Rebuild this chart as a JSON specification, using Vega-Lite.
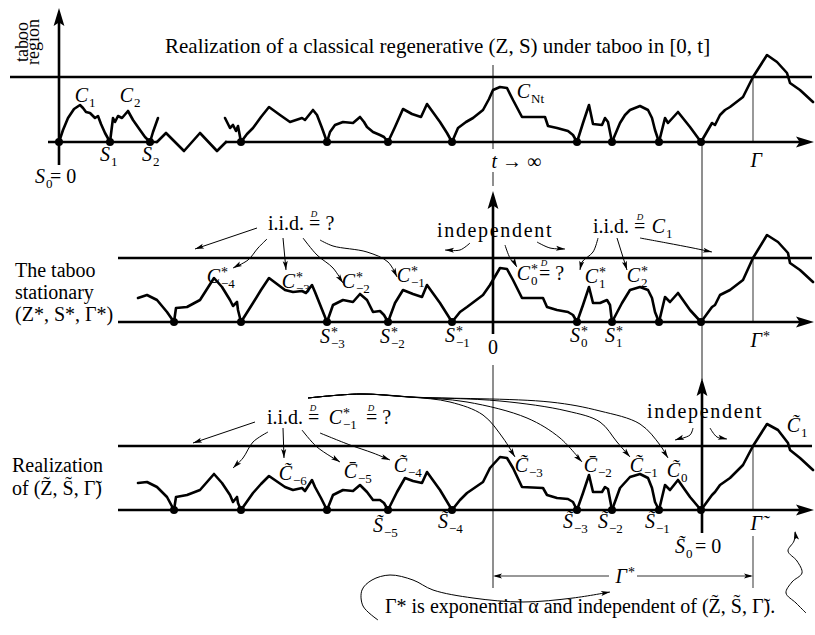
{
"$schema":"https://vega.github.io/schema/vega-lite/v6.json",
"width":815,"height":635,"padding":0,
"autosize":{"type":"fit","contains":"padding"},
"background":"white",
"config":{"view":{"stroke":null}},
"datasets":{
"thick":[
{"x":10,"y":77,"x2":812,"y2":77},{"x":48,"y":142,"x2":157,"y2":142},{"x":225,"y":142,"x2":806,"y2":142},{"x":59,"y":165,"x2":59,"y2":18},
{"x":118,"y":258,"x2":812,"y2":258},{"x":118,"y":322,"x2":806,"y2":322},{"x":493,"y":334,"x2":493,"y2":200},
{"x":118,"y":446,"x2":812,"y2":446},{"x":118,"y":510,"x2":806,"y2":510},{"x":702,"y":533,"x2":702,"y2":388}],
"grey":[
{"x":753,"y":77,"x2":753,"y2":142},{"x":753,"y":258,"x2":753,"y2":322},{"x":753,"y":446,"x2":753,"y2":510},{"x":753,"y":536,"x2":753,"y2":588}],
"thin":[
{"x":493,"y":65,"x2":493,"y2":149},{"x":493,"y":172,"x2":493,"y2":186},{"x":493,"y":365,"x2":493,"y2":588},{"x":702,"y":142,"x2":702,"y2":380},
{"x":495,"y":576,"x2":609,"y2":576},{"x":637,"y":576,"x2":751,"y2":576}],
"paths":[
{"g":"T1","x":59,"y":142},{"g":"T1","x":63,"y":130},{"g":"T1","x":68,"y":118},{"g":"T1","x":74,"y":109},{"g":"T1","x":80,"y":105},{"g":"T1","x":83,"y":108},{"g":"T1","x":86,"y":112},{"g":"T1","x":90,"y":113},{"g":"T1","x":95,"y":118},{"g":"T1","x":98,"y":116},{"g":"T1","x":101,"y":124},{"g":"T1","x":105,"y":133},{"g":"T1","x":110,"y":142},
{"g":"T2","x":110,"y":142},{"g":"T2","x":113,"y":118},{"g":"T2","x":115,"y":122},{"g":"T2","x":118,"y":116},{"g":"T2","x":122,"y":118},{"g":"T2","x":128,"y":111},{"g":"T2","x":133,"y":120},{"g":"T2","x":140,"y":130},{"g":"T2","x":145,"y":137},{"g":"T2","x":150,"y":142},
{"g":"T3","x":150,"y":142},{"g":"T3","x":153,"y":132},{"g":"T3","x":158,"y":118},
{"g":"T4","x":157,"y":142},{"g":"T4","x":166,"y":133},{"g":"T4","x":184,"y":151},{"g":"T4","x":200,"y":133},{"g":"T4","x":217,"y":151},{"g":"T4","x":226,"y":142},
{"g":"T5","x":225,"y":118},{"g":"T5","x":230,"y":128},{"g":"T5","x":233,"y":125},{"g":"T5","x":236,"y":131},{"g":"T5","x":238,"y":126},{"g":"T5","x":241,"y":142},
{"g":"T6","x":241,"y":142},{"g":"T6","x":247,"y":134},{"g":"T6","x":253,"y":128},{"g":"T6","x":261,"y":117},{"g":"T6","x":269,"y":107},{"g":"T6","x":280,"y":115},{"g":"T6","x":290,"y":122},{"g":"T6","x":302,"y":118},{"g":"T6","x":305,"y":120},{"g":"T6","x":313,"y":110},{"g":"T6","x":317,"y":115},{"g":"T6","x":322,"y":128},{"g":"T6","x":327,"y":142},
{"g":"T7","x":327,"y":142},{"g":"T7","x":330,"y":132},{"g":"T7","x":335,"y":125},{"g":"T7","x":343,"y":122},{"g":"T7","x":353,"y":123},{"g":"T7","x":360,"y":117},{"g":"T7","x":364,"y":122},{"g":"T7","x":367,"y":127},{"g":"T7","x":373,"y":132},{"g":"T7","x":380,"y":135},{"g":"T7","x":384,"y":137},{"g":"T7","x":388,"y":142},
{"g":"T8","x":388,"y":142},{"g":"T8","x":395,"y":127},{"g":"T8","x":403,"y":109},{"g":"T8","x":412,"y":114},{"g":"T8","x":421,"y":117},{"g":"T8","x":427,"y":104},{"g":"T8","x":440,"y":122},{"g":"T8","x":447,"y":133},{"g":"T8","x":452,"y":142},
{"g":"T9","x":452,"y":142},{"g":"T9","x":458,"y":128},{"g":"T9","x":466,"y":122},{"g":"T9","x":473,"y":118},{"g":"T9","x":483,"y":110},{"g":"T9","x":489,"y":99},{"g":"T9","x":493,"y":90},{"g":"T9","x":500,"y":87},{"g":"T9","x":507,"y":88},{"g":"T9","x":513,"y":100},{"g":"T9","x":522,"y":117},{"g":"T9","x":545,"y":117},{"g":"T9","x":548,"y":126},{"g":"T9","x":557,"y":128},{"g":"T9","x":568,"y":131},{"g":"T9","x":573,"y":135},{"g":"T9","x":577,"y":142},
{"g":"T10","x":577,"y":142},{"g":"T10","x":583,"y":123},{"g":"T10","x":589,"y":105},{"g":"T10","x":593,"y":124},{"g":"T10","x":602,"y":125},{"g":"T10","x":605,"y":118},{"g":"T10","x":608,"y":122},{"g":"T10","x":612,"y":142},
{"g":"T11","x":612,"y":142},{"g":"T11","x":620,"y":123},{"g":"T11","x":625,"y":115},{"g":"T11","x":630,"y":110},{"g":"T11","x":640,"y":106},{"g":"T11","x":648,"y":110},{"g":"T11","x":652,"y":118},{"g":"T11","x":655,"y":130},{"g":"T11","x":659,"y":142},
{"g":"T12","x":659,"y":142},{"g":"T12","x":665,"y":118},{"g":"T12","x":668,"y":123},{"g":"T12","x":678,"y":112},{"g":"T12","x":690,"y":127},{"g":"T12","x":701,"y":142},
{"g":"T13","x":701,"y":142},{"g":"T13","x":712,"y":123},{"g":"T13","x":715,"y":125},{"g":"T13","x":720,"y":115},{"g":"T13","x":725,"y":110},{"g":"T13","x":730,"y":107},{"g":"T13","x":743,"y":97},{"g":"T13","x":753,"y":77},{"g":"T13","x":767,"y":55},{"g":"T13","x":777,"y":62},{"g":"T13","x":787,"y":73},{"g":"T13","x":790,"y":83},{"g":"T13","x":800,"y":90},{"g":"T13","x":813,"y":102},
{"g":"M1","x":138,"y":298},{"g":"M1","x":147,"y":295},{"g":"M1","x":157,"y":300},{"g":"M1","x":167,"y":312},{"g":"M1","x":174,"y":322},
{"g":"M2","x":174,"y":322},{"g":"M2","x":176,"y":308},{"g":"M2","x":187,"y":307},{"g":"M2","x":200,"y":300},{"g":"M2","x":214,"y":278},{"g":"M2","x":222,"y":287},{"g":"M2","x":230,"y":300},{"g":"M2","x":233,"y":306},{"g":"M2","x":237,"y":302},{"g":"M2","x":238,"y":310},{"g":"M2","x":241,"y":322},
{"g":"M3","x":241,"y":322},{"g":"M3","x":253,"y":303},{"g":"M3","x":261,"y":290},{"g":"M3","x":269,"y":278},{"g":"M3","x":285,"y":290},{"g":"M3","x":293,"y":292},{"g":"M3","x":302,"y":291},{"g":"M3","x":306,"y":293},{"g":"M3","x":312,"y":285},{"g":"M3","x":315,"y":292},{"g":"M3","x":321,"y":307},{"g":"M3","x":327,"y":322},
{"g":"M4","x":327,"y":322},{"g":"M4","x":333,"y":305},{"g":"M4","x":343,"y":300},{"g":"M4","x":353,"y":302},{"g":"M4","x":360,"y":294},{"g":"M4","x":367,"y":300},{"g":"M4","x":373,"y":312},{"g":"M4","x":380,"y":311},{"g":"M4","x":384,"y":315},{"g":"M4","x":388,"y":322},
{"g":"M5","x":388,"y":322},{"g":"M5","x":395,"y":303},{"g":"M5","x":403,"y":290},{"g":"M5","x":413,"y":294},{"g":"M5","x":422,"y":297},{"g":"M5","x":427,"y":285},{"g":"M5","x":440,"y":303},{"g":"M5","x":452,"y":322},
{"g":"M6","x":452,"y":322},{"g":"M6","x":460,"y":312},{"g":"M6","x":467,"y":307},{"g":"M6","x":483,"y":295},{"g":"M6","x":490,"y":285},{"g":"M6","x":500,"y":268},{"g":"M6","x":507,"y":269},{"g":"M6","x":513,"y":280},{"g":"M6","x":522,"y":298},{"g":"M6","x":543,"y":298},{"g":"M6","x":547,"y":307},{"g":"M6","x":557,"y":310},{"g":"M6","x":568,"y":312},{"g":"M6","x":573,"y":315},{"g":"M6","x":577,"y":322},
{"g":"M7","x":577,"y":322},{"g":"M7","x":583,"y":305},{"g":"M7","x":589,"y":287},{"g":"M7","x":593,"y":303},{"g":"M7","x":600,"y":303},{"g":"M7","x":607,"y":300},{"g":"M7","x":610,"y":305},{"g":"M7","x":612,"y":322},
{"g":"M8","x":612,"y":322},{"g":"M8","x":622,"y":303},{"g":"M8","x":630,"y":290},{"g":"M8","x":640,"y":287},{"g":"M8","x":648,"y":290},{"g":"M8","x":652,"y":298},{"g":"M8","x":655,"y":312},{"g":"M8","x":659,"y":322},
{"g":"M9","x":659,"y":322},{"g":"M9","x":665,"y":297},{"g":"M9","x":670,"y":302},{"g":"M9","x":678,"y":293},{"g":"M9","x":690,"y":310},{"g":"M9","x":701,"y":322},
{"g":"M10","x":701,"y":322},{"g":"M10","x":712,"y":307},{"g":"M10","x":715,"y":305},{"g":"M10","x":720,"y":295},{"g":"M10","x":730,"y":290},{"g":"M10","x":743,"y":280},{"g":"M10","x":753,"y":258},{"g":"M10","x":767,"y":235},{"g":"M10","x":778,"y":242},{"g":"M10","x":788,"y":253},{"g":"M10","x":790,"y":263},{"g":"M10","x":800,"y":270},{"g":"M10","x":813,"y":282},
{"g":"B1","x":138,"y":483},{"g":"B1","x":147,"y":482},{"g":"B1","x":157,"y":487},{"g":"B1","x":167,"y":497},{"g":"B1","x":174,"y":510},
{"g":"B2","x":174,"y":510},{"g":"B2","x":176,"y":497},{"g":"B2","x":187,"y":495},{"g":"B2","x":200,"y":490},{"g":"B2","x":214,"y":474},{"g":"B2","x":222,"y":483},{"g":"B2","x":230,"y":495},{"g":"B2","x":233,"y":502},{"g":"B2","x":237,"y":497},{"g":"B2","x":238,"y":503},{"g":"B2","x":241,"y":510},
{"g":"B3","x":241,"y":510},{"g":"B3","x":253,"y":493},{"g":"B3","x":261,"y":484},{"g":"B3","x":269,"y":476},{"g":"B3","x":285,"y":487},{"g":"B3","x":293,"y":490},{"g":"B3","x":302,"y":488},{"g":"B3","x":305,"y":491},{"g":"B3","x":312,"y":480},{"g":"B3","x":315,"y":487},{"g":"B3","x":321,"y":498},{"g":"B3","x":327,"y":510},
{"g":"B4","x":327,"y":510},{"g":"B4","x":333,"y":495},{"g":"B4","x":343,"y":490},{"g":"B4","x":353,"y":491},{"g":"B4","x":360,"y":485},{"g":"B4","x":367,"y":492},{"g":"B4","x":373,"y":500},{"g":"B4","x":380,"y":500},{"g":"B4","x":384,"y":503},{"g":"B4","x":388,"y":510},
{"g":"B5","x":388,"y":510},{"g":"B5","x":397,"y":492},{"g":"B5","x":405,"y":478},{"g":"B5","x":413,"y":481},{"g":"B5","x":422,"y":483},{"g":"B5","x":427,"y":472},{"g":"B5","x":440,"y":490},{"g":"B5","x":452,"y":510},
{"g":"B6","x":452,"y":510},{"g":"B6","x":460,"y":500},{"g":"B6","x":467,"y":493},{"g":"B6","x":483,"y":482},{"g":"B6","x":490,"y":468},{"g":"B6","x":500,"y":457},{"g":"B6","x":507,"y":458},{"g":"B6","x":513,"y":468},{"g":"B6","x":522,"y":487},{"g":"B6","x":543,"y":488},{"g":"B6","x":547,"y":495},{"g":"B6","x":557,"y":498},{"g":"B6","x":568,"y":499},{"g":"B6","x":573,"y":502},{"g":"B6","x":577,"y":510},
{"g":"B7","x":577,"y":510},{"g":"B7","x":583,"y":493},{"g":"B7","x":589,"y":475},{"g":"B7","x":593,"y":492},{"g":"B7","x":602,"y":492},{"g":"B7","x":605,"y":487},{"g":"B7","x":608,"y":489},{"g":"B7","x":612,"y":510},
{"g":"B8","x":612,"y":510},{"g":"B8","x":620,"y":488},{"g":"B8","x":630,"y":477},{"g":"B8","x":640,"y":474},{"g":"B8","x":648,"y":478},{"g":"B8","x":652,"y":488},{"g":"B8","x":655,"y":502},{"g":"B8","x":659,"y":510},
{"g":"B9","x":659,"y":510},{"g":"B9","x":665,"y":485},{"g":"B9","x":670,"y":490},{"g":"B9","x":678,"y":480},{"g":"B9","x":690,"y":497},{"g":"B9","x":701,"y":510},
{"g":"B10","x":701,"y":510},{"g":"B10","x":712,"y":495},{"g":"B10","x":715,"y":492},{"g":"B10","x":720,"y":485},{"g":"B10","x":730,"y":478},{"g":"B10","x":743,"y":465},{"g":"B10","x":753,"y":446},{"g":"B10","x":767,"y":424},{"g":"B10","x":778,"y":430},{"g":"B10","x":788,"y":443},{"g":"B10","x":790,"y":450},{"g":"B10","x":800,"y":458},{"g":"B10","x":813,"y":470}],
"curves":[
{"g":"a1","x":257,"y":228},{"g":"a1","x":195,"y":249},
{"g":"a2","x":267,"y":239},{"g":"a2","x":258,"y":248},{"g":"a2","x":248,"y":260},{"g":"a2","x":233,"y":268},
{"g":"a3","x":283,"y":238},{"g":"a3","x":286,"y":270},
{"g":"a4","x":303,"y":238},{"g":"a4","x":317,"y":255},{"g":"a4","x":333,"y":268},{"g":"a4","x":343,"y":283},
{"g":"a5","x":320,"y":240},{"g":"a5","x":333,"y":246},{"g":"a5","x":367,"y":252},{"g":"a5","x":388,"y":262},{"g":"a5","x":397,"y":277},
{"g":"a6","x":470,"y":243},{"g":"a6","x":460,"y":250},{"g":"a6","x":445,"y":250},
{"g":"a7","x":537,"y":242},{"g":"a7","x":550,"y":248},{"g":"a7","x":565,"y":249},
{"g":"a8","x":505,"y":245},{"g":"a8","x":510,"y":258},{"g":"a8","x":517,"y":267},
{"g":"a9","x":598,"y":238},{"g":"a9","x":593,"y":252},{"g":"a9","x":582,"y":262},{"g":"a9","x":580,"y":270},
{"g":"a10","x":617,"y":238},{"g":"a10","x":627,"y":270},
{"g":"a11","x":640,"y":238},{"g":"a11","x":667,"y":243},{"g":"a11","x":693,"y":248},{"g":"a11","x":712,"y":252},
{"g":"b1","x":255,"y":422},{"g":"b1","x":193,"y":443},
{"g":"b2","x":268,"y":432},{"g":"b2","x":253,"y":442},{"g":"b2","x":243,"y":458},{"g":"b2","x":233,"y":468},
{"g":"b3","x":283,"y":428},{"g":"b3","x":284,"y":458},
{"g":"b4","x":302,"y":430},{"g":"b4","x":317,"y":447},{"g":"b4","x":340,"y":462},
{"g":"b5","x":320,"y":433},{"g":"b5","x":350,"y":445},{"g":"b5","x":373,"y":453},{"g":"b5","x":390,"y":460},
{"g":"b6","x":308,"y":398},{"g":"b6","x":360,"y":394},{"g":"b6","x":410,"y":397},{"g":"b6","x":450,"y":402},{"g":"b6","x":483,"y":415},{"g":"b6","x":503,"y":438},{"g":"b6","x":515,"y":457},
{"g":"b7","x":308,"y":398},{"g":"b7","x":360,"y":394},{"g":"b7","x":410,"y":397},{"g":"b7","x":467,"y":402},{"g":"b7","x":527,"y":418},{"g":"b7","x":560,"y":438},{"g":"b7","x":582,"y":462},
{"g":"b8","x":308,"y":398},{"g":"b8","x":360,"y":394},{"g":"b8","x":410,"y":397},{"g":"b8","x":500,"y":401},{"g":"b8","x":567,"y":411},{"g":"b8","x":600,"y":422},{"g":"b8","x":617,"y":442},{"g":"b8","x":630,"y":457},
{"g":"b9","x":308,"y":398},{"g":"b9","x":360,"y":394},{"g":"b9","x":410,"y":397},{"g":"b9","x":550,"y":402},{"g":"b9","x":600,"y":411},{"g":"b9","x":640,"y":424},{"g":"b9","x":660,"y":445},{"g":"b9","x":668,"y":458},
{"g":"b10","x":693,"y":428},{"g":"b10","x":690,"y":435},{"g":"b10","x":675,"y":440},
{"g":"b11","x":710,"y":428},{"g":"b11","x":717,"y":437},{"g":"b11","x":727,"y":439},
{"g":"c1","x":378,"y":620},{"g":"c1","x":363,"y":606},{"g":"c1","x":362,"y":590},{"g":"c1","x":372,"y":580},{"g":"c1","x":390,"y":575},{"g":"c1","x":413,"y":580},{"g":"c1","x":433,"y":590},{"g":"c1","x":473,"y":598},{"g":"c1","x":523,"y":602},{"g":"c1","x":573,"y":598},{"g":"c1","x":610,"y":592},
{"g":"c2","x":806,"y":613},{"g":"c2","x":796,"y":603},{"g":"c2","x":786,"y":593},{"g":"c2","x":792,"y":582},{"g":"c2","x":802,"y":573},{"g":"c2","x":797,"y":561},{"g":"c2","x":788,"y":551},{"g":"c2","x":794,"y":541},{"g":"c2","x":795,"y":532}],
"dots":[
{"x":59,"y":142},{"x":110,"y":142},{"x":150,"y":142},{"x":241,"y":142},{"x":327,"y":142},{"x":388,"y":142},{"x":452,"y":142},{"x":577,"y":142},{"x":612,"y":142},{"x":659,"y":142},{"x":701,"y":142},
{"x":174,"y":322},{"x":241,"y":322},{"x":327,"y":322},{"x":388,"y":322},{"x":452,"y":322},{"x":577,"y":322},{"x":612,"y":322},{"x":659,"y":322},{"x":701,"y":322},
{"x":174,"y":510},{"x":241,"y":510},{"x":327,"y":510},{"x":388,"y":510},{"x":452,"y":510},{"x":577,"y":510},{"x":612,"y":510},{"x":659,"y":510},{"x":701,"y":510}],
"heads":[
{"x":195,"y":249,"a":251},{"x":233,"y":268,"a":242},{"x":286,"y":270,"a":175},{"x":343,"y":283,"a":146},{"x":397,"y":277,"a":155},
{"x":445,"y":250,"a":272},{"x":565,"y":249,"a":95},{"x":517,"y":267,"a":151},{"x":580,"y":270,"a":191},{"x":627,"y":270,"a":163},{"x":712,"y":252,"a":102},
{"x":193,"y":443,"a":251},{"x":233,"y":468,"a":225},{"x":284,"y":458,"a":178},{"x":340,"y":462,"a":123},{"x":390,"y":460,"a":112},
{"x":515,"y":457,"a":148},{"x":582,"y":462,"a":137},{"x":630,"y":457,"a":139},{"x":668,"y":458,"a":148},
{"x":675,"y":440,"a":252},{"x":727,"y":439,"a":101},
{"x":493,"y":576,"a":270},{"x":753,"y":576,"a":90},{"x":610,"y":592,"a":81},{"x":795,"y":531,"a":350}],
"bigheads":[
{"x":59,"y":8,"a":0},{"x":814,"y":142,"a":90},{"x":493,"y":191,"a":0},{"x":814,"y":322,"a":90},{"x":702,"y":378,"a":0},{"x":814,"y":510,"a":90}],
"title":[{"x":165,"y":53,"t":"Realization of a classical regenerative (Z, S) under taboo in [0, t]"}],
"txt":[
{"x":50,"y":183,"t":"= 0"},
{"x":502,"y":168,"t":"→ ∞"},
{"x":15,"y":277,"t":"The taboo"},
{"x":15,"y":299,"t":"stationary"},
{"x":15,"y":321,"t":"(Z*, S*, Γ*)"},
{"x":268,"y":230,"t":"i.i.d. = ?"},
{"x":437,"y":237,"t":"i\u200an\u200ad\u200ae\u200ap\u200ae\u200an\u200ad\u200ae\u200an\u200at"},
{"x":593,"y":233,"t":"i.i.d. ="},
{"x":539,"y":280,"t":"= ?"},
{"x":488,"y":354,"t":"0"},
{"x":12,"y":472,"t":"Realization"},
{"x":12,"y":495,"t":"of (Z\u0303, S\u0303, Γ\u0303)"},
{"x":267,"y":424,"t":"i.i.d. ="},
{"x":366,"y":424,"t":"= ?"},
{"x":647,"y":418,"t":"i\u200an\u200ad\u200ae\u200ap\u200ae\u200an\u200ad\u200ae\u200an\u200at"},
{"x":695,"y":553,"t":"= 0"},
{"x":385,"y":613,"t":"Γ* is exponential α and independent of (Z\u0303, S\u0303, Γ\u0303)."}],
"rot":[{"x":28,"y":42,"t":"taboo"},{"x":39,"y":42,"t":"region"}],
"sym":[
{"x":88,"y":102,"m":"C","sb":"1"},{"x":133,"y":102,"m":"C","sb":"2"},{"x":110,"y":161,"m":"S","sb":"1"},{"x":152,"y":161,"m":"S","sb":"2"},{"x":45,"y":183,"m":"S","sb":"0"},
{"x":530,"y":98,"m":"C","sb":"Nt"},{"x":497,"y":168,"m":"t"},{"x":762,"y":167,"m":"Γ"},
{"x":220,"y":283,"m":"C","sb":"−4","sp":"*"},{"x":295,"y":288,"m":"C","sb":"−3","sp":"*"},{"x":355,"y":288,"m":"C","sb":"−2","sp":"*"},{"x":410,"y":282,"m":"C","sb":"−1","sp":"*"},
{"x":530,"y":280,"m":"C","sb":"0","sp":"*"},{"x":598,"y":283,"m":"C","sb":"1","sp":"*"},{"x":640,"y":282,"m":"C","sb":"2","sp":"*"},{"x":665,"y":233,"m":"C","sb":"1"},
{"x":330,"y":343,"m":"S","sb":"−3","sp":"*"},{"x":390,"y":343,"m":"S","sb":"−2","sp":"*"},{"x":455,"y":342,"m":"S","sb":"−1","sp":"*"},{"x":580,"y":342,"m":"S","sb":"0","sp":"*"},{"x":615,"y":342,"m":"S","sb":"1","sp":"*"},{"x":762,"y":347,"m":"Γ","sp":"*"},
{"x":342,"y":424,"m":"C","sb":"−1","sp":"*"},
{"x":292,"y":480,"m":"C\u0303","sb":"−6"},{"x":357,"y":478,"m":"C\u0304","sb":"−5"},{"x":407,"y":472,"m":"C\u0303","sb":"−4"},{"x":528,"y":472,"m":"C\u0303","sb":"−3"},{"x":597,"y":472,"m":"C\u0304","sb":"−2"},{"x":643,"y":472,"m":"C\u0303","sb":"−1"},{"x":680,"y":477,"m":"C\u0303","sb":"0"},{"x":800,"y":432,"m":"C\u0303","sb":"1"},
{"x":383,"y":532,"m":"S\u0303","sb":"−5"},{"x":448,"y":528,"m":"S\u0303","sb":"−4"},{"x":573,"y":528,"m":"S\u0303","sb":"−3"},{"x":608,"y":528,"m":"S\u0303","sb":"−2"},{"x":655,"y":528,"m":"S\u0303","sb":"−1"},{"x":685,"y":553,"m":"S\u0303","sb":"0"},
{"x":762,"y":530,"m":"Γ\u0303"},{"x":627,"y":583,"m":"Γ","sp":"*"}],
"dd":[{"x":314,"y":217,"t":"D"},{"x":640,"y":220,"t":"D"},{"x":544,"y":266,"t":"D"},{"x":313,"y":411,"t":"D"},{"x":371,"y":411,"t":"D"}]
},
"encoding":{
"x":{"field":"x","type":"quantitative","scale":{"domain":[0,815],"nice":false,"zero":false},"axis":null},
"y":{"field":"y","type":"quantitative","scale":{"domain":[0,635],"reverse":true,"nice":false,"zero":false},"axis":null}},
"layer":[
{"data":{"name":"grey"},"mark":{"type":"rule","strokeWidth":1.6,"color":"#808080"},"encoding":{"x2":{"field":"x2"},"y2":{"field":"y2"}}},
{"data":{"name":"thin"},"mark":{"type":"rule","strokeWidth":1.1,"color":"#333333"},"encoding":{"x2":{"field":"x2"},"y2":{"field":"y2"}}},
{"data":{"name":"thick"},"mark":{"type":"rule","strokeWidth":2.6,"color":"#000000"},"encoding":{"x2":{"field":"x2"},"y2":{"field":"y2"}}},
{"data":{"name":"paths"},"mark":{"type":"line","strokeWidth":2.6,"color":"#000000","strokeJoin":"round","strokeCap":"round"},"encoding":{"detail":{"field":"g"},"order":{"value":null}}},
{"data":{"name":"curves"},"mark":{"type":"line","strokeWidth":1,"color":"#000000","interpolate":"catmull-rom"},"encoding":{"detail":{"field":"g"},"order":{"value":null}}},
{"data":{"name":"dots"},"mark":{"type":"point","filled":true,"size":64,"color":"#000000","opacity":1}},
{"data":{"name":"heads"},"mark":{"type":"point","filled":true,"size":126,"color":"#000000","opacity":1,"shape":"M0,0L0.45,1.6L0,1.25L-0.45,1.6Z"},"encoding":{"angle":{"field":"a","type":"quantitative","scale":null}}},
{"data":{"name":"bigheads"},"mark":{"type":"point","filled":true,"size":324,"color":"#000000","opacity":1,"shape":"M0,0L0.6,2L0,1.6L-0.6,2Z"},"encoding":{"angle":{"field":"a","type":"quantitative","scale":null}}},
{"data":{"name":"title"},"mark":{"type":"text","font":"Liberation Serif","fontSize":21,"align":"left","baseline":"alphabetic","color":"#000000"},"encoding":{"text":{"field":"t"}}},
{"data":{"name":"txt"},"mark":{"type":"text","font":"Liberation Serif","fontSize":20,"align":"left","baseline":"alphabetic","color":"#000000"},"encoding":{"text":{"field":"t"}}},
{"data":{"name":"rot"},"mark":{"type":"text","font":"Liberation Serif","fontSize":18,"align":"center","baseline":"alphabetic","angle":270,"color":"#000000"},"encoding":{"text":{"field":"t"}}},
{"data":{"name":"sym"},"mark":{"type":"text","font":"Liberation Serif","fontSize":20,"fontStyle":"italic","align":"right","baseline":"alphabetic","color":"#000000"},"encoding":{"text":{"field":"m"}}},
{"data":{"name":"sym"},"transform":[{"filter":"datum.sb"}],"mark":{"type":"text","font":"Liberation Serif","fontSize":13,"align":"left","baseline":"alphabetic","dx":1,"dy":5,"color":"#000000"},"encoding":{"text":{"field":"sb"}}},
{"data":{"name":"sym"},"transform":[{"filter":"datum.sp"}],"mark":{"type":"text","font":"Liberation Serif","fontSize":14,"align":"left","baseline":"alphabetic","dx":1,"dy":-6,"color":"#000000"},"encoding":{"text":{"field":"sp"}}},
{"data":{"name":"dd"},"mark":{"type":"text","font":"Liberation Serif","fontSize":9,"fontStyle":"italic","align":"center","baseline":"alphabetic","color":"#000000"},"encoding":{"text":{"field":"t"}}}
]
}
